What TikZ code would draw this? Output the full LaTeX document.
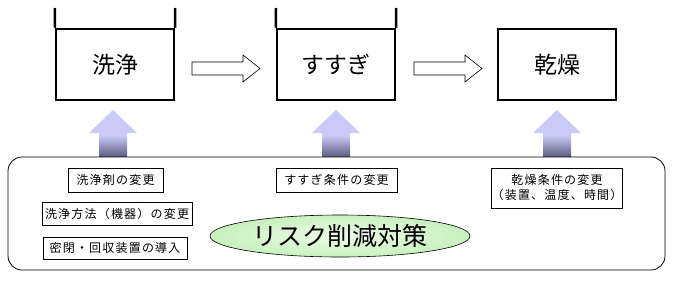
\documentclass[tikz,border=0pt]{standalone}
\usepackage{fontspec}
\setmainfont{Noto Sans CJK JP}
\usetikzlibrary{shapes.geometric}
\definecolor{lav}{RGB}{202,202,248}
\definecolor{lavdark}{RGB}{90,90,125}
\definecolor{ellgreen}{RGB}{200,240,190}
\definecolor{ellhi}{RGB}{236,252,232}
\pgfdeclareverticalshading{uparrshade}{100bp}{color(0bp)=(lavdark); color(25bp)=(lavdark); color(48bp)=(lav); color(100bp)=(lav)}
\begin{document}
\begin{tikzpicture}[x=1pt,y=-1pt,
  tank/.style={draw,line width=2.5pt,minimum width=118pt,minimum height=71pt,inner sep=0pt,font=\fontsize{23}{25}\selectfont},
  measure/.style={draw,line width=0.8pt,inner sep=0pt,font=\fontsize{12}{15}\selectfont\addfontfeature{LetterSpace=10},align=center},
  blockarrow/.style={draw,line width=0.6pt,fill=white},
  uparrow/.style={shading=uparrshade}]
\useasboundingbox (0,0) rectangle (674,295);
% upward gradient arrows
\foreach \cx in {113,336,557}{
  \shade[uparrow] (\cx,110) -- (\cx+24,133) -- (\cx+14,133) -- (\cx+14,157) -- (\cx-14,157) -- (\cx-14,133) -- (\cx-24,133) -- cycle;
}
% process tanks
\node[tank] (wash) at (115,64.5) {洗浄};
\node[tank] (rinse) at (336,64.5) {すすぎ};
\node[tank] (dry) at (557,64.5) {乾燥};
\coordinate (w1) at (55,8); \coordinate (w2) at (175,8);
\coordinate (r1) at (276,8); \coordinate (r2) at (396,8);
\draw[line width=2.5pt] (wash.north west) -- (w1);
\draw[line width=2.5pt] (wash.north east) -- (w2);
\draw[line width=2.5pt] (rinse.north west) -- (r1);
\draw[line width=2.5pt] (rinse.north east) -- (r2);
% block arrows between tanks
\draw[blockarrow] (192,62) -- (243,62) -- (243,55) -- (260,68.5) -- (243,82) -- (243,75) -- (192,75) -- cycle;
\draw[blockarrow] (414,62) -- (465,62) -- (465,55) -- (482,68.5) -- (465,82) -- (465,75) -- (414,75) -- cycle;
% container of measures
\node[draw,line width=0.8pt,fill=white,rounded corners=14pt,minimum width=657pt,minimum height=113pt,inner sep=0pt] (frame) at (336.5,213.5) {};
\node[measure,minimum width=95pt,minimum height=24pt] (m1) at (115.5,180) {洗浄剤の変更};
\node[measure,minimum width=150pt,minimum height=23pt] (m2) at (117,213.5) {洗浄方法（機器）の変更};
\node[measure,minimum width=144pt,minimum height=22pt] (m3) at (115,248) {密閉・回収装置の導入};
\node[measure,minimum width=121pt,minimum height=24pt] (m4) at (336.5,180) {すすぎ条件の変更};
\node[measure,minimum width=128pt,minimum height=40pt] (m5) at (557,188) {乾燥条件の変更\\（装置、温度、時間）};
\node[ellipse,draw,line width=0.6pt,inner color=ellhi,outer color=ellgreen,minimum width=260pt,minimum height=42pt,inner sep=0pt,font=\fontsize{25}{27}\selectfont] (risk) at (340,236) {リスク削減対策};
\end{tikzpicture}
\end{document}
